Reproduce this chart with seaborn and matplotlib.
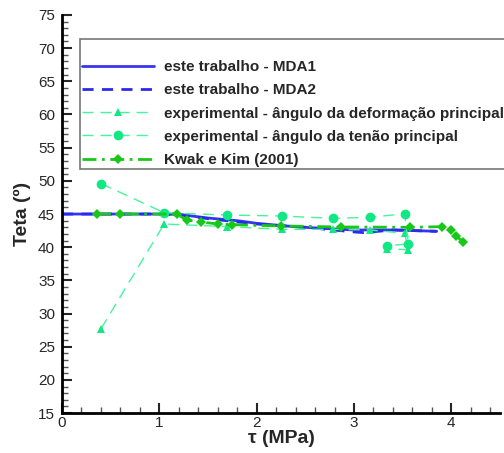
import matplotlib
matplotlib.use("Agg")
import matplotlib.pyplot as plt
from matplotlib.ticker import MultipleLocator
import seaborn as sns

sns.set_style("white")
plt.rcParams['font.family'] = ['Liberation Sans', 'DejaVu Sans']

# este trabalho - MDA1 / MDA2
mda1_x = [0.0, 1.0, 1.2, 1.5, 1.8, 2.0, 2.3, 2.6, 3.0, 3.4, 3.85]
mda1_y = [45.0, 45.0, 44.95, 44.4, 44.0, 43.6, 43.2, 42.9, 42.6, 42.6, 42.4]
mda2_x = [0.0, 1.0, 1.2, 1.5, 2.0, 2.5, 3.0, 3.1, 3.4, 3.85]
mda2_y = [45.0, 45.0, 44.9, 44.3, 43.5, 43.0, 42.3, 42.2, 42.6, 42.4]

# experimental - angulo da deformacao principal
def_x = [0.40, 1.05, 1.70, 2.26, 2.78, 3.16, 3.52, 3.56, 3.34]
def_y = [27.7, 43.5, 43.1, 42.7, 42.7, 42.6, 42.1, 39.6, 39.8]

# experimental - angulo da tensao principal
ten_x = [0.40, 1.05, 1.70, 2.26, 2.78, 3.16, 3.52, 3.56, 3.34]
ten_y = [49.6, 45.2, 44.85, 44.7, 44.35, 44.5, 45.05, 40.5, 40.2]

# Kwak e Kim (2001)
kwak_x = [0.36, 0.60, 1.18, 1.28, 1.43, 1.60, 1.75, 2.25, 2.87, 3.58, 3.90, 4.00, 4.05, 4.12]
kwak_y = [45.0, 45.0, 45.0, 44.1, 43.8, 43.5, 43.4, 43.2, 43.05, 43.0, 43.1, 42.6, 41.7, 40.8]

fig = plt.figure(figsize=(5.04, 4.53), dpi=100)
ax = fig.add_axes([0.123, 0.088, 0.869, 0.879])

sns.lineplot(x=mda1_x, y=mda1_y, ax=ax, color='#3535f0', lw=2.0, sort=False,
             label='este trabalho - MDA1')
sns.lineplot(x=mda2_x, y=mda2_y, ax=ax, color='#2a2aee', lw=2.0, sort=False,
             linestyle=(0, (4, 3)), label='este trabalho - MDA2')
sns.lineplot(x=def_x, y=def_y, ax=ax, color='#44f59a', lw=1.0, sort=False,
             linestyle=(0, (8, 5)), marker='^', markersize=5.5, markeredgewidth=0,
             markerfacecolor='#10e883', label='experimental - ângulo da deformação principal')
sns.lineplot(x=ten_x, y=ten_y, ax=ax, color='#44f59a', lw=1.0, sort=False,
             linestyle=(0, (8, 5)), marker='o', markersize=7, markeredgewidth=0,
             markerfacecolor='#10e883', label='experimental - ângulo da tenão principal')
sns.lineplot(x=kwak_x, y=kwak_y, ax=ax, color='#18c818', lw=2.0, sort=False,
             linestyle=(0, (5, 2, 1, 2)), marker='D', markersize=5.5, markeredgewidth=0,
             label='Kwak e Kim (2001)')

ax.set_xlim(0, 4.5)
ax.set_ylim(15, 75)
ax.xaxis.set_major_locator(MultipleLocator(1))
ax.xaxis.set_minor_locator(MultipleLocator(0.2))
ax.yaxis.set_major_locator(MultipleLocator(5))
ax.yaxis.set_minor_locator(MultipleLocator(1))
ax.tick_params(which='major', direction='in', length=7, width=1.5, labelsize=11,
               bottom=True, left=True)
ax.tick_params(axis='y', which='major', pad=5)
ax.tick_params(axis='x', which='major', pad=2)
ax.tick_params(which='minor', direction='in', length=4, width=1, color='#555555',
               bottom=True, left=True)
sns.despine(ax=ax)
for s in ['left', 'bottom']:
    ax.spines[s].set_linewidth(2)
    ax.spines[s].set_color('black')

ax.set_xlabel('τ (MPa)', fontsize=14, fontweight='bold', labelpad=0)
ax.set_ylabel('Teta (º)', fontsize=14, fontweight='bold', labelpad=5)

leg = ax.legend(loc='upper left', bbox_to_anchor=(0.04, 0.94),
                prop={'weight': 'bold', 'size': 11}, frameon=True, fancybox=False,
                title=' ', title_fontsize=8,
                handlelength=4.7, handletextpad=0.65, labelspacing=0.6,
                borderpad=0.15, borderaxespad=0)
leg.get_frame().set_edgecolor('#555555')
leg.get_frame().set_linewidth(1.2)

fig.savefig('out.png', dpi=100)
